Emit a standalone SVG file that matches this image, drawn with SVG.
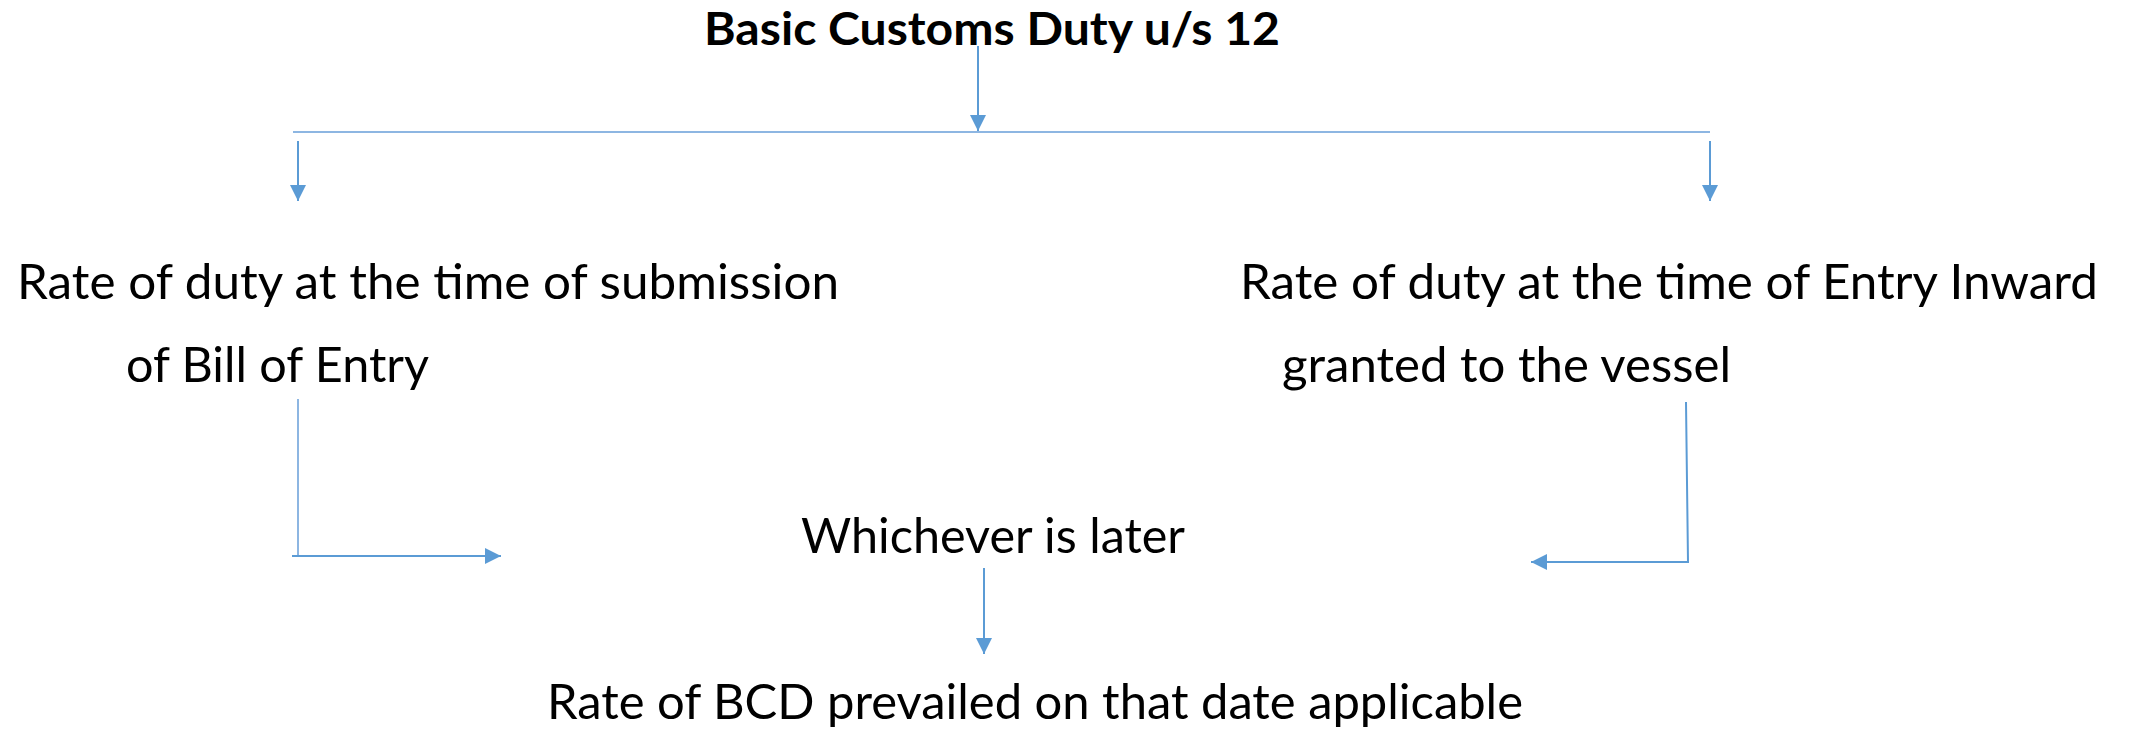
<svg xmlns="http://www.w3.org/2000/svg" width="2129" height="730" viewBox="0 0 2129 730">
<style>
.t{font-family:Lato,"Open Sans","Liberation Sans",sans-serif;font-size:48px;fill:#000}
.b{font-weight:bold;font-size:45px}
.ln{stroke:#5B9BD5;stroke-width:2;fill:none}
.ln2{stroke:#8DB6E2;stroke-width:2;fill:none}
</style>
<defs>
<marker id="ah" viewBox="0 0 10 10" refX="10" refY="5" markerWidth="16" markerHeight="16" markerUnits="userSpaceOnUse" orient="auto">
<path d="M0,0 L10,5 L0,10 z" fill="#5B9BD5"/>
</marker>
</defs>
<g id="n-title"><text class="t b" x="704" y="45" textLength="576" lengthAdjust="spacingAndGlyphs">Basic Customs Duty u/s 12</text></g>
<g id="n-left"><text class="t" x="17" y="299" textLength="822" lengthAdjust="spacingAndGlyphs">Rate of duty at the time of submission</text>
<text class="t" x="126" y="382" textLength="303" lengthAdjust="spacingAndGlyphs">of Bill of Entry</text></g>
<g id="n-right"><text class="t" x="1240" y="299" textLength="858" lengthAdjust="spacingAndGlyphs">Rate of duty at the time of Entry Inward</text>
<text class="t" x="1282" y="382" textLength="449" lengthAdjust="spacingAndGlyphs">granted to the vessel</text></g>
<g id="n-which"><text class="t" x="801" y="553" textLength="384" lengthAdjust="spacingAndGlyphs">Whichever is later</text></g>
<g id="n-result"><text class="t" x="547" y="719" textLength="976" lengthAdjust="spacingAndGlyphs">Rate of BCD prevailed on that date applicable</text></g>
<g id="connectors">
<line class="ln" x1="978" y1="46" x2="978" y2="131" marker-end="url(#ah)"/>
<line class="ln2" x1="293" y1="132" x2="1710" y2="132"/>
<line class="ln" x1="298" y1="141" x2="298" y2="201" marker-end="url(#ah)"/>
<line class="ln" x1="1710" y1="141" x2="1710" y2="201" marker-end="url(#ah)"/>
<line class="ln2" x1="298" y1="399" x2="298" y2="556"/>
<line class="ln" x1="292" y1="556" x2="501" y2="556" marker-end="url(#ah)"/>
<polyline class="ln" points="1686,402 1688,562 1531,562" marker-end="url(#ah)"/>
<line class="ln" x1="984" y1="568" x2="984" y2="654" marker-end="url(#ah)"/>
</g>
</svg>
